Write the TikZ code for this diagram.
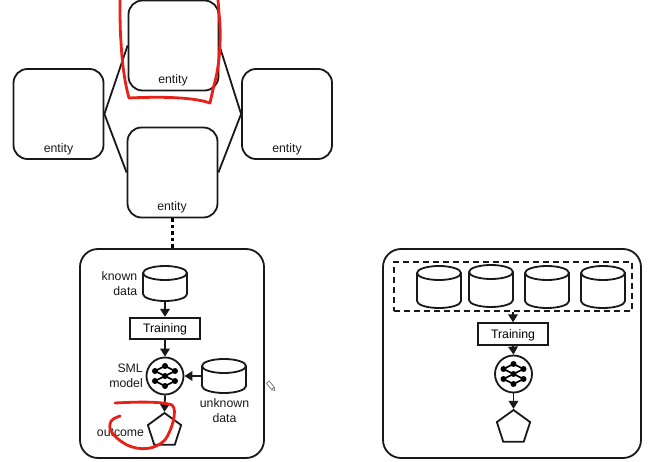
\documentclass[tikz,border=0pt]{standalone}
\usepackage{fontspec}
\setmainfont{Liberation Sans}
\usetikzlibrary{arrows.meta,shapes.geometric,calc}
\definecolor{inkred}{RGB}{232,32,24}
\tikzset{
  x=1pt,y=-1pt,
  line/.style={draw=black!90,line width=1.8pt},
  entitybox/.style={line,rounded corners=14pt,minimum width=90pt,minimum height=90pt,inner sep=0pt},
  outerbox/.style={line,rounded corners=18pt,inner sep=0pt},
  trainbox/.style={line,minimum width=70pt,minimum height=21.5pt,inner sep=0pt,text depth=0pt,font=\fontsize{12.3}{14}\selectfont},
  netcircle/.style={circle,line,minimum size=37pt,inner sep=0pt},
  penta/.style={regular polygon,regular polygon sides=5,line,minimum size=35pt,inner sep=0pt},
  lbl/.style={font=\fontsize{12.3}{14.5}\selectfont,inner sep=0pt,align=center,text=black!90},
  flow/.style={draw=black!90,line width=1.8pt,-{Triangle[length=8pt,width=9.5pt]}},
  ink/.style={draw=inkred,line width=2.8pt,line cap=round,line join=round},
  cylbody/.style={draw=black!90,line width=1.8pt,fill=white},
}
% cylinder: centre x, top y, bottom y (half width 22)
\newcommand{\cyl}[4]{%
  \coordinate (#1) at (#2,{(#3+#4)/2});
  \coordinate (#1-n) at (#2,#3);
  \coordinate (#1-s) at (#2,#4);
  \coordinate (#1-w) at ({#2-22},{(#3+#4)/2});
  \coordinate (#1-e) at ({#2+22},{(#3+#4)/2});
  \draw[cylbody] ({#2-22},{#3+7}) -- ({#2-22},{#4-7})
     arc[start angle=180,end angle=360,x radius=22,y radius=-7]
     -- ({#2+22},{#3+7})
     arc[start angle=0,end angle=180,x radius=22,y radius=-7] -- cycle;
  \draw[draw=black!90,line width=1.8pt] ({#2-22},{#3+7}) arc[start angle=180,end angle=360,x radius=22,y radius=-7];
}
% network icon inside a circle at (#1,#2)
\newcommand{\neticon}[2]{%
  \begin{scope}[shift={(#1,#2)},line width=1.7pt]
    \coordinate (A) at (-10,-5); \coordinate (B) at (-10,5);
    \coordinate (C) at (0,-10); \coordinate (D) at (0,0); \coordinate (E) at (0,10);
    \coordinate (F) at (10,-5); \coordinate (G) at (10,5);
    \draw (A)--(C)--(F)--(D)--(A) (B)--(D)--(G)--(E)--(B) (A)--(G) (B)--(F);
    \foreach \q in {A,B,C,D,E,F,G}{\fill (\q) circle[radius=3];}
  \end{scope}
}
\begin{document}
\begin{tikzpicture}
\useasboundingbox (0,0) rectangle (651,462);
% entities
\node[entitybox] (top) at (173.5,45.5) {};
\node[entitybox] (left) at (58.5,114) {};
\node[entitybox] (right) at (287,114) {};
\node[entitybox] (bot) at (172.5,172.5) {};
\node[lbl] (t1) at (173,80.5) {entity};
\node[lbl] (t2) at (58.5,149) {entity};
\node[lbl] (t3) at (287,149) {entity};
\node[lbl] (t4) at (172,207.5) {entity};
\draw[line] (left.east) -- (top.west);
\draw[line] (left.east) -- (bot.west);
\draw[line] (top.east) -- (right.west);
\draw[line] (bot.east) -- (right.west);
% left panel
\node[outerbox,minimum width=184pt,minimum height=209pt] (pl) at (172,353.5) {};
\draw[line width=3.6pt,dash pattern=on 3.5pt off 3pt] (bot.south) -- (bot.south |- pl.north);
\cyl{kd}{165}{266}{301}
\node[trainbox] (tr) at (165,328.5) {Training};
\node[netcircle] (nn) at (165,376) {};
\neticon{165}{376}
\cyl{ud}{224}{359}{393}
\node[penta] (po) at (164.5,430.5) {};
\node[lbl,align=right,anchor=east] (l1) at (137.5,283.5) {known\\data};
\node[lbl,align=right,anchor=east] (l2) at (143,376) {SML\\model};
\node[lbl] (l3) at (224.5,410.5) {unknown\\data};
\node[lbl] (l4) at (120.5,432.5) {outcome};
\draw[flow] (kd-s) -- (tr.north);
\draw[flow] (tr.south) -- (nn.north);
\draw[flow] (ud-w) -- (nn.east);
\draw[flow] (nn.south) -- (po.north);
% right panel
\node[outerbox,minimum width=258pt,minimum height=209pt] (pr) at (512,353.5) {};
\node[line,dash pattern=on 6pt off 4pt,minimum width=238pt,minimum height=49pt,inner sep=0pt] (dg) at (513,286.5) {};
\cyl{c1}{439}{266}{308}
\cyl{c2}{491}{265}{307}
\cyl{c3}{547}{266}{308}
\cyl{c4}{603}{266}{308}
\node[trainbox] (tr2) at (513,334) {Training};
\node[netcircle] (nn2) at (513.5,374) {};
\neticon{513.5}{374}
\node[penta] (po2) at (513.5,427.5) {};
\draw[flow] (dg.south) -- (tr2.north);
\draw[flow] (tr2.south) -- (nn2.north);
\draw[flow] (nn2.south) -- (po2.north);
% red ink
\draw[ink] (120,0) .. controls (120,15) and (120,30) .. (121,42) .. controls (122,60) and (124,80) .. (129,98)
  .. controls (150,97) and (190,96) .. (210,103) -- (214,85) .. controls (218,72) and (221,50) .. (220,25) -- (218,0);
\draw[ink] (115,403) .. controls (135,402) and (160,401) .. (172,405) .. controls (178,410) and (172,430) .. (165,440)
  .. controls (155,450) and (140,451) .. (127,445) .. controls (118,440) and (108,432) .. (110,424) .. controls (111,419) and (115,418) .. (120,416);
% pencil
\begin{scope}[shift={(271,386)},rotate=-50]
\draw[black!55,line width=.7pt,fill=white] (-5,-1.8) rectangle (3,1.8);
\draw[black!55,line width=.7pt] (3,-1.8) -- (6,0) -- (3,1.8);
\end{scope}
\end{tikzpicture}
\end{document}
